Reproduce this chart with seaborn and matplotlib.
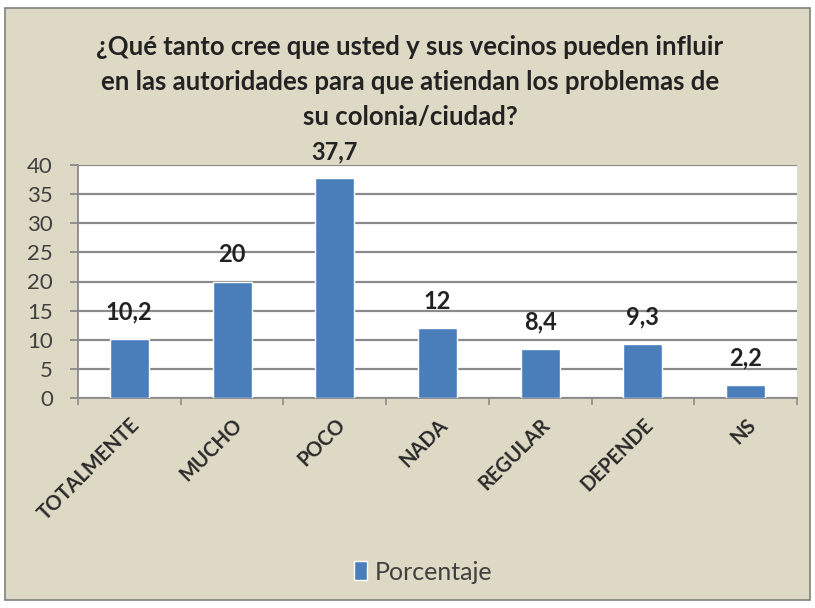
import matplotlib
matplotlib.use("Agg")
import matplotlib.pyplot as plt
import seaborn as sns
import pandas as pd
from matplotlib.patches import Rectangle

categorias = ["TOTALMENTE", "MUCHO", "POCO", "NADA", "REGULAR", "DEPENDE", "NS"]
porcentaje = [10.2, 20, 37.7, 12, 8.4, 9.3, 2.2]
etiquetas = ["10,2", "20", "37,7", "12", "8,4", "9,3", "2,2"]
yticks = [0, 5, 10, 15, 20, 25, 30, 35, 40]
titulo = ("¿Qué tanto cree que usted y sus vecinos pueden influir\n"
          "en las autoridades para que atiendan los problemas de\n"
          "su colonia/ciudad?")
serie = "Porcentaje"

sns.set_theme(style="white")
plt.rcParams['font.family'] = ['Lato', 'DejaVu Sans']

W, H = 815, 608
fig = plt.figure(figsize=(W / 100, H / 100), dpi=100)
fig.patch.set_facecolor("white")
bg = Rectangle((5 / W, 8 / H), 805 / W, 592 / H, transform=fig.transFigure,
               facecolor="#DDD9C4", edgecolor="#7f7f7f", linewidth=1.2, zorder=-10)
fig.patches.append(bg)

ax = fig.add_axes([78 / W, 1 - 398 / H, (797 - 78) / W, (398 - 165) / H])
df = pd.DataFrame({"categoria": categorias, "valor": porcentaje})
sns.barplot(data=df, x="categoria", y="valor", color="#4A7EBB", width=0.38,
            saturation=1, ax=ax, zorder=3, label=serie)
ax.set_facecolor("white")
ax.set_ylim(0, 40)
ax.set_xlim(-0.5, len(categorias) - 0.5)
ax.set_yticks(yticks)
ax.set_yticklabels([str(t) for t in yticks], fontsize=16, color="#404040")
ax.yaxis.grid(True, color="#8a8a8a", linewidth=1.6, zorder=0)
ax.set_axisbelow(True)
for s in ["top", "right"]:
    ax.spines[s].set_visible(False)
ax.spines["left"].set_color("#8a8a8a")
ax.spines["bottom"].set_color("#8a8a8a")
ax.spines["left"].set_linewidth(1.3)
ax.spines["bottom"].set_linewidth(1.3)
ax.tick_params(axis="y", length=6, width=1.3, color="#8a8a8a", direction="out", pad=12, left=True)
ax.set_xticks(range(len(categorias)))
ax.set_xticklabels(categorias, rotation=45, ha="right", rotation_mode="anchor",
                   fontsize=14.5, fontweight="bold", color="#2a2a2a")
ax.tick_params(axis="x", length=0, pad=12)
# boundary tick marks (Excel style)
ax.set_xticks([i - 0.5 for i in range(len(categorias) + 1)], minor=True)
ax.tick_params(axis="x", which="minor", length=5, color="#8a8a8a", width=1.2, direction="out", bottom=True)
ax.set_xlabel("")
ax.set_ylabel("")

for i, (v, t) in enumerate(zip(porcentaje, etiquetas)):
    ax.annotate(t, (i, v), xytext=(0, 11), textcoords="offset points",
                ha="center", va="bottom", fontsize=17, fontweight="bold", color="#222222")

fig.text(410 / W, 1 - 35 / H, titulo, ha="center", va="top", fontsize=18.5,
         fontweight="bold", color="#222222", linespacing=1.55)

leg = ax.legend(loc="center", bbox_to_anchor=(423 / W, 1 - 572 / H),
                bbox_transform=fig.transFigure, frameon=False, fontsize=18,
                handlelength=0.55, handleheight=0.8, handletextpad=0.3)
for txt in leg.get_texts():
    txt.set_color("#404040")

fig.savefig("out.png", dpi=100, facecolor=fig.get_facecolor())
